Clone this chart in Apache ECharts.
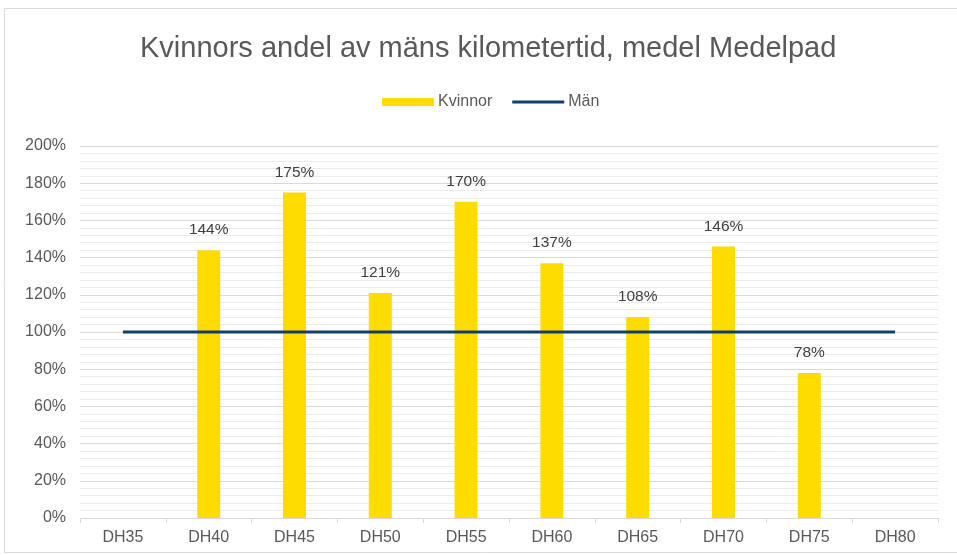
<!DOCTYPE html>
<html>
<head>
<meta charset="utf-8">
<script src="https://cdn.jsdelivr.net/npm/echarts@6/dist/echarts.min.js"></script>
<style>
  html, body { margin: 0; padding: 0; background: #fff; }
  #main { width: 957px; height: 555px; }
</style>
</head>
<body>
<div id="main"></div>
<script>
// klasser
var categories = ["DH35", "DH40", "DH45", "DH50", "DH55", "DH60", "DH65", "DH70", "DH75", "DH80"];
// kvinnors andel i procent (tom = ingen stapel)
var kvinnor = [null, 144, 175, 121, 170, 137, 108, 146, 78, null];
// referenslinje för män
var man = [100, 100, 100, 100, 100, 100, 100, 100, 100, 100];

var chartDom = document.getElementById("main");
var myChart = echarts.init(chartDom);
var option;

option = {
  animation: false,
  textStyle: { fontFamily: "Liberation Sans, Arial, sans-serif" },
  graphic: [
    {
      type: "rect",
      shape: { x: 4.5, y: 8.5, width: 960, height: 544 },
      style: { fill: "none", stroke: "#d9d9d9", lineWidth: 1 },
      silent: true
    }
  ],
  title: {
    text: "Kvinnors andel av mäns kilometertid, medel Medelpad",
    left: 135,
    top: 29,
    textStyle: { fontSize: 29, fontWeight: "normal", color: "#595959" }
  },
  legend: {
    top: 89,
    left: 377,
    itemGap: 20,
    itemWidth: 52,
    itemHeight: 8,
    textStyle: { fontSize: 16, color: "#595959", padding: [0, 0, 0, -1] },
    data: [
      { name: "Kvinnor", icon: "rect" },
      { name: "Män", icon: "path://M0,0 L52,0 L52,3 L0,3 Z" }
    ]
  },
  grid: {
    left: 80,
    right: 19,
    top: 146,
    bottom: 37,
    containLabel: false
  },
  xAxis: {
    type: "category",
    data: categories,
    axisLine: { lineStyle: { color: "#d9d9d9", width: 1 } },
    axisTick: { show: true, length: 5, lineStyle: { color: "#d9d9d9" } },
    axisLabel: { fontSize: 16, color: "#595959", margin: 12 }
  },
  yAxis: {
    type: "value",
    min: 0,
    max: 200,
    interval: 20,
    axisLine: { show: false },
    axisTick: { show: false },
    axisLabel: { fontSize: 16, color: "#595959", margin: 14, formatter: "{value}%" },
    splitLine: { lineStyle: { color: "#d9d9d9", width: 1 } },
    minorTick: { show: false, splitNumber: 5 },
    minorSplitLine: { show: true, lineStyle: { color: "#ebebeb", width: 1 } }
  },
  series: [
    {
      name: "Kvinnor",
      type: "bar",
      data: kvinnor,
      barWidth: 23,
      itemStyle: { color: "#ffdc00" },
      label: {
        show: true,
        position: "top",
        distance: 12,
        formatter: "{c}%",
        fontSize: 15.5,
        color: "#404040"
      }
    },
    {
      name: "Män",
      type: "line",
      data: man,
      symbol: "none",
      lineStyle: { color: "#123f69", width: 3 },
      itemStyle: { color: "#123f69" }
    }
  ]
};

option && myChart.setOption(option);
</script>
</body>
</html>
